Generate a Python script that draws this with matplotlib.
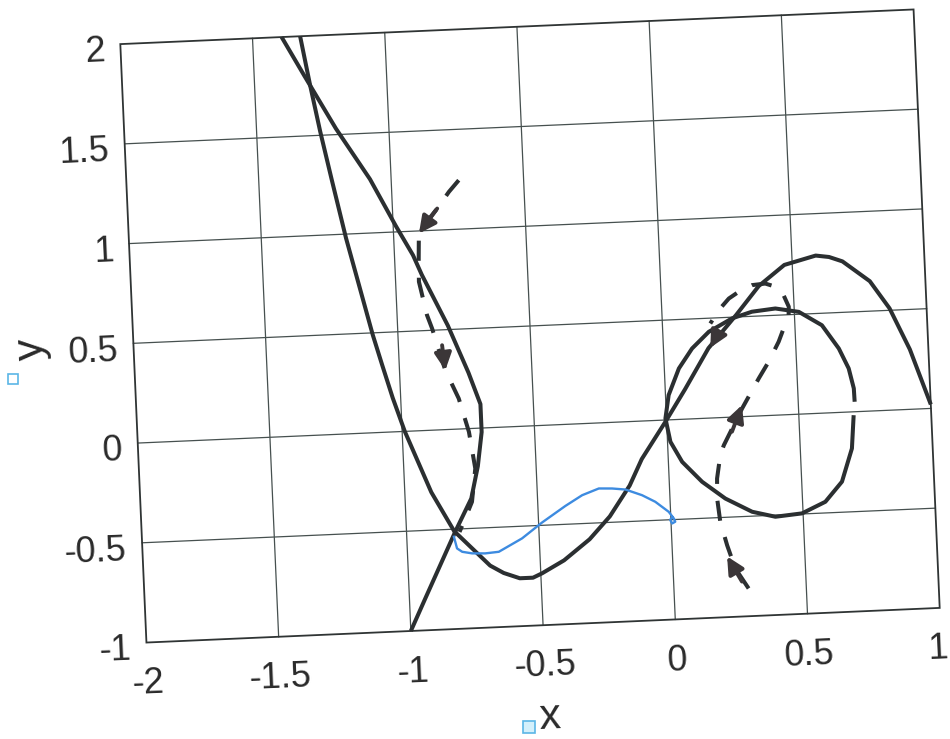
import matplotlib
matplotlib.use("Agg")
import matplotlib.pyplot as plt
from matplotlib.patches import Rectangle, FancyArrowPatch
from matplotlib.transforms import Affine2D

plt.rcParams["font.family"] = ["Liberation Sans", "DejaVu Sans"]

# values (data units)
x_ticks = [-2, -1.5, -1, -0.5, 0, 0.5, 1]
x_tick_labels = ["-2", "-1.5", "-1", "-0.5", "0", "0.5", "1"]
y_ticks = [-1, -0.5, 0, 0.5, 1, 1.5, 2]
y_tick_labels = ["-1", "-0.5", "0", "0.5", "1", "1.5", "2"]

# S-shaped curve
s_x = [-1.32, -1.29, -1.26, -1.225, -1.18, -1.095, -1.065, -1.03, -0.99, -0.90, -0.82,
       -0.755, -0.69, -0.64, -0.58, -0.53, -0.495, -0.41, -0.31, -0.23, -0.15, -0.10,
       0.0, 0.075, 0.17, 0.28, 0.37, 0.47, 0.53, 0.59, 0.64, 0.69, 0.79, 0.86, 0.93, 1.0]
s_y = [2.0, 1.75, 1.52, 1.28, 0.98, 0.49, 0.34, 0.17, 0.0, -0.31, -0.51,
       -0.60, -0.69, -0.73, -0.76, -0.76, -0.74, -0.68, -0.58, -0.47, -0.32, -0.19,
       0.0, 0.15, 0.35, 0.51, 0.65, 0.75, 0.77, 0.79, 0.78, 0.755, 0.65, 0.51, 0.30, 0.02]

# left curve with the bulge
a_x = [-1.39, -1.31, -1.20, -1.08, -0.99, -0.93, -0.90, -0.81, -0.74, -0.70, -0.70,
       -0.72, -0.75, -0.815, -0.94, -1.0]
a_y = [2.0, 1.80, 1.53, 1.27, 1.03, 0.88, 0.78, 0.52, 0.28, 0.12, -0.02,
       -0.19, -0.35, -0.51, -0.84, -1.0]

# loop on the right
loop_x = [0.707, 0.695, 0.652, 0.586, 0.496, 0.395, 0.308, 0.209, 0.124, 0.052, 0.011,
          -0.004, 0.012, 0.055, 0.108, 0.174, 0.264, 0.340, 0.429, 0.517, 0.602, 0.662,
          0.696, 0.712, 0.713]
loop_y = [-0.017, -0.183, -0.347, -0.444, -0.497, -0.508, -0.478, -0.406, -0.317, -0.213,
          -0.110, 0.008, 0.124, 0.255, 0.352, 0.432, 0.494, 0.523, 0.534, 0.512, 0.440,
          0.320, 0.218, 0.117, 0.050]

# dashed trajectories
d1_x = [-0.745, -0.784, -0.831, -0.904, -0.909, -0.912, -0.887, -0.870, -0.827, -0.781,
        -0.748, -0.730, -0.748, -0.782, -0.80]
d1_y = [1.245, 1.189, 1.108, 0.996, 0.862, 0.746, 0.577, 0.509, 0.297, 0.153,
        -0.016, -0.201, -0.367, -0.465, -0.515]
d2_x = [0.282, 0.235, 0.208, 0.186, 0.178, 0.181, 0.197, 0.212, 0.287, 0.355, 0.395,
        0.436, 0.478, 0.480, 0.457, 0.433, 0.395, 0.345, 0.294, 0.255, 0.215, 0.181]
d2_y = [-0.861, -0.758, -0.640, -0.521, -0.404, -0.304, -0.188, -0.139, 0.041, 0.188, 0.269,
        0.367, 0.498, 0.540, 0.616, 0.643, 0.661, 0.656, 0.626, 0.594, 0.538, 0.473]

# blue hand-drawn path
blue_x = [-0.822, -0.812, -0.793, -0.756, -0.707, -0.655, -0.565, -0.487, -0.396, -0.331,
          -0.267, -0.217, -0.167, -0.105, -0.056, -0.007, 0.011, 0.016, 0.004, -0.003, 0.006]
blue_y = [-0.538, -0.597, -0.615, -0.625, -0.628, -0.623, -0.561, -0.486, -0.408, -0.358,
          -0.328, -0.331, -0.339, -0.371, -0.407, -0.460, -0.494, -0.511, -0.519, -0.500, -0.488]

# arrow heads on the dashed paths (tail -> tip)
arrow_tail_x = [-0.831, -0.835, 0.258, 0.245, 0.205]
arrow_tail_y = [1.108, 0.423, -0.825, -0.073, 0.413]
arrow_tip_x = [-0.904, -0.827, 0.206, 0.287, 0.177]
arrow_tip_y = [0.987, 0.297, -0.696, 0.058, 0.352]

W, H = 950, 739
ANG = 2.5  # the scan is tilted
ink = "#2b2f31"
grid_col = "#46504f"

fig = plt.figure(figsize=(W / 100, H / 100), dpi=100)
ax = fig.add_axes([133 / W, 113.5 / H, 794 / W, 599 / H])
ax.set_xlim(x_ticks[0], x_ticks[-1])
ax.set_ylim(y_ticks[0], y_ticks[-1])
ax.axis("off")

rot = Affine2D().rotate_deg_around(530, 413, ANG)
tr = ax.transData + rot

frame = Rectangle((0, 0), 1, 1, transform=ax.transAxes + rot, fill=False,
                  ec="#2f3434", lw=1.3, clip_on=False, zorder=2)
ax.add_patch(frame)

# grid
for xt in x_ticks[1:-1]:
    ax.plot([xt, xt], [y_ticks[0], y_ticks[-1]], color=grid_col, lw=0.9,
            transform=tr, clip_on=False, zorder=1)
for yt in y_ticks[1:-1]:
    ax.plot([x_ticks[0], x_ticks[-1]], [yt, yt], color=grid_col, lw=0.9,
            transform=tr, clip_on=False, zorder=1)

# tick labels (last one nudged in so it stays on the page)
for i, (xt, lab) in enumerate(zip(x_ticks, x_tick_labels)):
    nudge = -0.012 if i == len(x_ticks) - 1 else 0
    ax.text(xt + nudge, y_ticks[0] - 0.255, lab, transform=tr, fontsize=26, color="#2a2a2a",
            ha="center", va="baseline", rotation=ANG, rotation_mode="anchor")
for yt, lab in zip(y_ticks, y_tick_labels):
    ax.text(x_ticks[0] - 0.06, yt - 0.083, lab, transform=tr, fontsize=26, color="#2a2a2a",
            ha="right", va="baseline", rotation=ANG, rotation_mode="anchor")

ax.text(-0.49, -1.52, "x", transform=tr, fontsize=31, color="#2a2a2a",
        ha="center", va="baseline", rotation=ANG, rotation_mode="anchor")
ax.text(-2.345, 0.495, "y", transform=tr, fontsize=31, color="#2a2a2a",
        ha="center", va="baseline", rotation=90 + ANG, rotation_mode="anchor")
ax.plot([-0.57], [-1.505], marker="s", ms=8, mfc="#d4f0fb", mec="#5bb6e6", mew=1.2,
        transform=tr, clip_on=False)
ax.plot([-2.46], [0.35], marker="s", ms=7, mfc="none", mec="#5bb6e6", mew=1.2,
        transform=tr, clip_on=False)

# solid curves
for xs, ys in [(a_x, a_y), (s_x, s_y), (loop_x, loop_y)]:
    ln, = ax.plot(xs, ys, color=ink, lw=2.9, transform=tr, zorder=3,
                  solid_capstyle="butt", solid_joinstyle="round")
    ln.set_clip_path(frame)

# dashed curves
for xs, ys in [(d1_x, d1_y), (d2_x, d2_y)]:
    ln, = ax.plot(xs, ys, color=ink, lw=2.9, ls=(0, (5, 4.2)), transform=tr, zorder=3,
                  dash_capstyle="butt")
    ln.set_clip_path(frame)

ln, = ax.plot(blue_x, blue_y, color="#3d8be0", lw=1.7, transform=tr, zorder=3)
ln.set_clip_path(frame)

for x0, y0, x1, y1 in zip(arrow_tail_x, arrow_tail_y, arrow_tip_x, arrow_tip_y):
    ar = FancyArrowPatch((x0, y0), (x1, y1), transform=tr,
                         arrowstyle="-|>,head_length=0.6,head_width=0.3",
                         mutation_scale=17, color="#3b3638", lw=2.8,
                         shrinkA=0, shrinkB=0, zorder=4, clip_on=False)
    ax.add_patch(ar)

fig.savefig("out.png", dpi=100, facecolor="white")
